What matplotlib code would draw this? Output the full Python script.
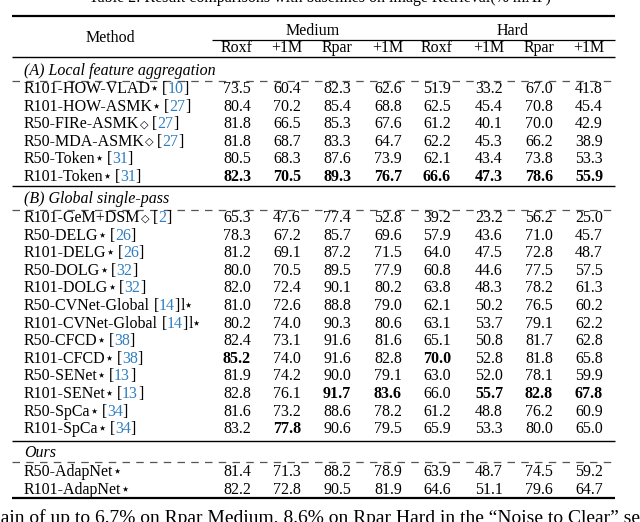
import matplotlib
matplotlib.use('Agg')
import matplotlib.pyplot as plt

# ---- data ----
col_groups = ["Medium", "Hard"]
col_names = ["Roxf", "+1M", "Rpar", "+1M", "Roxf", "+1M", "Rpar", "+1M"]

sections = ["(A) Local feature aggregation", "(B) Global single-pass", "Ours"]

# (name, marker, citation, text after citation)
methods_a = [
    ("R101-HOW-VLAD", "⋆", "10", ""),
    ("R101-HOW-ASMK", "⋆", "27", ""),
    ("R50-FIRe-ASMK", "◇", "27", ""),
    ("R50-MDA-ASMK", "◇", "27", ""),
    ("R50-Token", "⋆", "31", ""),
    ("R101-Token", "⋆", "31", ""),
]
vals_a = [
    [73.5, 60.4, 82.3, 62.6, 51.9, 33.2, 67.0, 41.8],
    [80.4, 70.2, 85.4, 68.8, 62.5, 45.4, 70.8, 45.4],
    [81.8, 66.5, 85.3, 67.6, 61.2, 40.1, 70.0, 42.9],
    [81.8, 68.7, 83.3, 64.7, 62.2, 45.3, 66.2, 38.9],
    [80.5, 68.3, 87.6, 73.9, 62.1, 43.4, 73.8, 53.3],
    [82.3, 70.5, 89.3, 76.7, 66.6, 47.3, 78.6, 55.9],
]
best_a = {5: [0, 1, 2, 3, 4, 5, 6, 7]}

methods_b = [
    ("R101-GeM+DSM", "◇", "2", ""),
    ("R50-DELG", "⋆", "26", ""),
    ("R101-DELG", "⋆", "26", ""),
    ("R50-DOLG", "⋆", "32", ""),
    ("R101-DOLG", "⋆", "32", ""),
    ("R50-CVNet-Global", "", "14", "l⋆"),
    ("R101-CVNet-Global", "", "14", "l⋆"),
    ("R50-CFCD", "⋆", "38", ""),
    ("R101-CFCD", "⋆", "38", ""),
    ("R50-SENet", "⋆", "13", ""),
    ("R101-SENet", "⋆", "13", ""),
    ("R50-SpCa", "⋆", "34", ""),
    ("R101-SpCa", "⋆", "34", ""),
]
vals_b = [
    [65.3, 47.6, 77.4, 52.8, 39.2, 23.2, 56.2, 25.0],
    [78.3, 67.2, 85.7, 69.6, 57.9, 43.6, 71.0, 45.7],
    [81.2, 69.1, 87.2, 71.5, 64.0, 47.5, 72.8, 48.7],
    [80.0, 70.5, 89.5, 77.9, 60.8, 44.6, 77.5, 57.5],
    [82.0, 72.4, 90.1, 80.2, 63.8, 48.3, 78.2, 61.3],
    [81.0, 72.6, 88.8, 79.0, 62.1, 50.2, 76.5, 60.2],
    [80.2, 74.0, 90.3, 80.6, 63.1, 53.7, 79.1, 62.2],
    [82.4, 73.1, 91.6, 81.6, 65.1, 50.8, 81.7, 62.8],
    [85.2, 74.0, 91.6, 82.8, 70.0, 52.8, 81.8, 65.8],
    [81.9, 74.2, 90.0, 79.1, 63.0, 52.0, 78.1, 59.9],
    [82.8, 76.1, 91.7, 83.6, 66.0, 55.7, 82.8, 67.8],
    [81.6, 73.2, 88.6, 78.2, 61.2, 48.8, 76.2, 60.9],
    [83.2, 77.8, 90.6, 79.5, 65.9, 53.3, 80.0, 65.0],
]
best_b = {8: [0, 4], 10: [2, 3, 5, 6, 7], 12: [1]}

methods_c = [
    ("R50-AdapNet", "⋆", None, ""),
    ("R101-AdapNet", "⋆", None, ""),
]
vals_c = [
    [81.4, 71.3, 88.2, 78.9, 63.9, 48.7, 74.5, 59.2],
    [82.2, 72.8, 90.5, 81.9, 64.6, 51.1, 79.6, 64.7],
]
best_c = {}

caption = "Table 2: Result comparisons with baselines on image Retrieval(% mAP)"
below = "gain of up to 6.7% on Rpar Medium, 8.6% on Rpar Hard in the \u201cNoise to Clear\u201d setting"

# ---- layout ----
FONT = ['Liberation Serif', 'DejaVu Sans']
FS = 11.5
MARK_SIZE = {"⋆": 10.5, "◇": 8}
MARK_DX = {"⋆": -1.0, "◇": 0.2}
MARK_DY = {"⋆": 0.6, "◇": 2.0}
BLUE = '#2f7fc1'
col_x = [237, 287, 337, 388, 437, 489, 539, 589]
left, right = 12, 615
name_x = 24

fig = plt.figure(figsize=(6.4, 5.22), dpi=100)
ax = fig.add_axes([0, 0, 1, 1])
ax.set_xlim(0, 640)
ax.set_ylim(522, 0)
ax.axis('off')


def txt(x, y, s, **kw):
    kw.setdefault('fontsize', FS)
    kw.setdefault('family', FONT)
    kw.setdefault('va', 'baseline')
    return ax.text(x, y, s, **kw)


def after(prev, base, s, dx=0, dy=0, size=FS, **kw):
    # x: right edge of previous piece, y: bottom of the row's first piece
    return ax.annotate(s, xy=(1, 0), xycoords=(prev, base), xytext=(dx, dy),
                       textcoords='offset points', va='bottom', ha='left',
                       fontsize=size, family=FONT, **kw)


def mark(prev, base, m):
    return after(prev, base, m, dx=MARK_DX[m], dy=MARK_DY[m], size=MARK_SIZE[m])


def rule(y, lw=1.0, x0=left, x1=right):
    ax.plot([x0, x1], [y, y], color='black', lw=lw, solid_capstyle='butt')


def dashed(y):
    ax.plot([left, right], [y, y], color='#555555', lw=0.9, dashes=(6, 5))


def method(y, name, m, cite, suffix):
    base = txt(name_x, y, name)
    t = base
    if m:
        t = mark(t, base, m)
    if cite is None:
        return
    gap = {"": 2.6, "⋆": 2.4, "◇": 2.6}[m]
    t = after(t, base, "[", dx=gap)
    t = after(t, base, cite, color=BLUE)
    t = after(t, base, "]")
    if suffix:
        t = after(t, base, suffix[:-1])
        mark(t, base, suffix[-1])


def block(y0, names, vals, best):
    for i, (n, m, c, s) in enumerate(names):
        y = y0 + i * 17.6
        method(y, n, m, c, s)
        for j, v in enumerate(vals[i]):
            txt(col_x[j], y, f"{v:.1f}", ha='center',
                fontweight='bold' if j in best.get(i, []) else 'normal')


# caption (cut off at the top, as in the source page)
txt(320, 2.5, caption, ha='center')

# header
rule(16, lw=1.6)
txt(110, 42, "Method", ha='center')
txt((col_x[0] + col_x[3]) / 2, 35, col_groups[0], ha='center')
txt((col_x[4] + col_x[7]) / 2, 35, col_groups[1], ha='center')
rule(40, lw=0.9, x0=212)
for x, c in zip(col_x, col_names):
    txt(x, 52, c, ha='center')
rule(57, lw=1.0)

# section A
txt(name_x, 75, sections[0], style='italic')
dashed(80.5)
block(93, methods_a, vals_a, best_a)
rule(186, lw=1.0)

# section B
txt(name_x, 203, sections[1], style='italic')
dashed(210)
block(222, methods_b, vals_b, best_b)
rule(441, lw=1.0)

# ours
txt(name_x, 457, sections[2], style='italic')
dashed(462)
block(476, methods_c, vals_c, best_c)
rule(498, lw=1.6)

# running text below the table (cut off at the bottom)
txt(-9, 509, below, va='top', fontsize=14)

fig.savefig('out.png', dpi=100)
